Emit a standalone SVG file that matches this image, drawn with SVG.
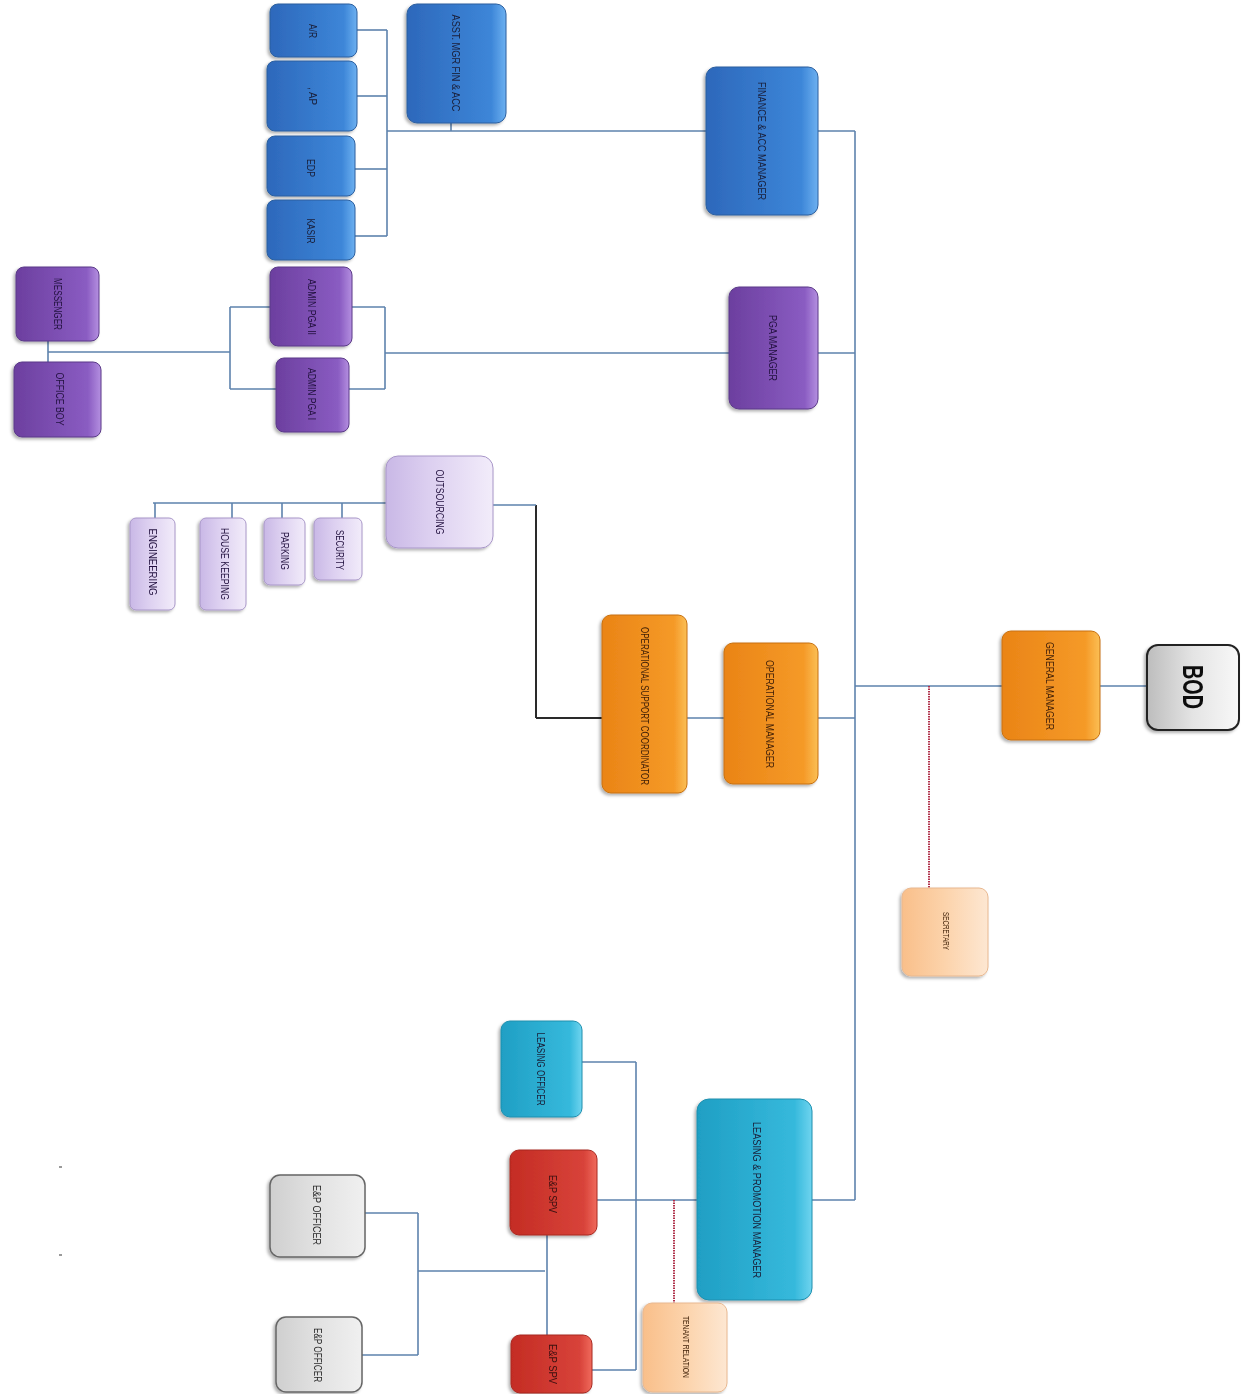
<svg xmlns="http://www.w3.org/2000/svg" width="1245" height="1394" viewBox="0 0 1245 1394">
<style>
.t{font-family:"Liberation Sans",Arial,sans-serif;font-size:11px;fill:#1a1e38;text-anchor:middle;dominant-baseline:central}
.to{fill:#3f1f05}
.tp{fill:#22113f}
.tg{fill:#2a2a2a}
.ln{stroke:#5d82ad;stroke-width:1.6;fill:none}
.dk{stroke:#2a2a2a;stroke-width:2;fill:none}
.dot{stroke:#b0304a;stroke-width:2;stroke-dasharray:1.5 1;fill:none}
.blue{fill:url(#gBlue);stroke:#2c5f9e;stroke-width:1}
.purp{fill:url(#gPurp);stroke:#5b3a88;stroke-width:1}
.oran{fill:url(#gOran);stroke:#c7700f;stroke-width:1}
.lav{fill:url(#gLav);stroke:#a896c8;stroke-width:1}
.peach{fill:url(#gPeach);stroke:#e8b890;stroke-width:1}
.cyan{fill:url(#gCyan);stroke:#1e8fae;stroke-width:1}
.red{fill:url(#gRed);stroke:#a82820;stroke-width:1}
.grey{fill:url(#gGrey);stroke:#666;stroke-width:1.5}
.bod{fill:url(#gBod);stroke:#222;stroke-width:2}
</style>
<defs>
<linearGradient id="gBlue" x1="0" x2="1" y1="0" y2="0"><stop offset="0" stop-color="#2d68bb"/><stop offset="0.85" stop-color="#3d86d8"/><stop offset="1" stop-color="#6cb0f0"/></linearGradient>
<linearGradient id="gPurp" x1="0" x2="1" y1="0" y2="0"><stop offset="0" stop-color="#6c3f9f"/><stop offset="0.85" stop-color="#8a5cc2"/><stop offset="1" stop-color="#b48fe0"/></linearGradient>
<linearGradient id="gOran" x1="0" x2="1" y1="0" y2="0"><stop offset="0" stop-color="#ea8416"/><stop offset="0.85" stop-color="#f59a28"/><stop offset="1" stop-color="#fbbf55"/></linearGradient>
<linearGradient id="gLav" x1="0" x2="1" y1="0" y2="0"><stop offset="0" stop-color="#c9b8e6"/><stop offset="0.4" stop-color="#dccff0"/><stop offset="1" stop-color="#f2ecfa"/></linearGradient>
<linearGradient id="gPeach" x1="0" x2="1" y1="0" y2="0"><stop offset="0" stop-color="#f9bf8a"/><stop offset="0.5" stop-color="#fcd3ab"/><stop offset="1" stop-color="#fde7d2"/></linearGradient>
<linearGradient id="gCyan" x1="0" x2="1" y1="0" y2="0"><stop offset="0" stop-color="#1f9fc4"/><stop offset="0.85" stop-color="#36b9dc"/><stop offset="1" stop-color="#6fd4ef"/></linearGradient>
<linearGradient id="gRed" x1="0" x2="1" y1="0" y2="0"><stop offset="0" stop-color="#c42c24"/><stop offset="0.85" stop-color="#d8433a"/><stop offset="1" stop-color="#f06a5c"/></linearGradient>
<linearGradient id="gGrey" x1="0" x2="1" y1="0" y2="0"><stop offset="0" stop-color="#cfcfcf"/><stop offset="0.5" stop-color="#e2e2e2"/><stop offset="1" stop-color="#f0f0f0"/></linearGradient>
<linearGradient id="gBod" x1="0" x2="1" y1="0" y2="0"><stop offset="0" stop-color="#bdbdbd"/><stop offset="0.5" stop-color="#e4e4e4"/><stop offset="1" stop-color="#f8f8f8"/></linearGradient>
<filter id="sh" x="-10%" y="-10%" width="130%" height="130%"><feDropShadow dx="-2" dy="2" stdDeviation="1.5" flood-color="#000" flood-opacity="0.3"/></filter>
</defs>
<rect width="1245" height="1394" fill="#ffffff"/>

<g id="connectors">
<line class="ln" x1="1100" y1="686" x2="1147" y2="686"/>
<line class="ln" x1="855" y1="686" x2="1002" y2="686"/>
<line class="ln" x1="855" y1="131" x2="855" y2="1200"/>
<line class="ln" x1="818" y1="131" x2="855" y2="131"/>
<line class="ln" x1="818" y1="353" x2="855" y2="353"/>
<line class="ln" x1="818" y1="718" x2="855" y2="718"/>
<line class="ln" x1="812" y1="1200" x2="855" y2="1200"/>
<line class="dot" x1="929" y1="686" x2="929" y2="888"/>
<line class="ln" x1="387" y1="131" x2="706" y2="131"/>
<line class="ln" x1="451" y1="123" x2="451" y2="131"/>
<line class="ln" x1="387" y1="30" x2="387" y2="236"/>
<line class="ln" x1="357" y1="30" x2="387" y2="30"/>
<line class="ln" x1="357" y1="96" x2="387" y2="96"/>
<line class="ln" x1="355" y1="169" x2="387" y2="169"/>
<line class="ln" x1="355" y1="236" x2="387" y2="236"/>
<line class="ln" x1="385" y1="353" x2="729" y2="353"/>
<line class="ln" x1="385" y1="307" x2="385" y2="389"/>
<line class="ln" x1="352" y1="307" x2="385" y2="307"/>
<line class="ln" x1="349" y1="389" x2="385" y2="389"/>
<line class="ln" x1="230" y1="307" x2="230" y2="389"/>
<line class="ln" x1="230" y1="307" x2="270" y2="307"/>
<line class="ln" x1="230" y1="389" x2="276" y2="389"/>
<line class="ln" x1="48" y1="352" x2="230" y2="352"/>
<line class="ln" x1="48" y1="341" x2="48" y2="362"/>
<line class="ln" x1="687" y1="718" x2="724" y2="718"/>
<line class="dk" x1="536" y1="718" x2="602" y2="718"/>
<line class="dk" x1="536" y1="505" x2="536" y2="718"/>
<line class="ln" x1="493" y1="505" x2="536" y2="505"/>
<line class="ln" x1="153" y1="503" x2="386" y2="503"/>
<line class="ln" x1="342" y1="503" x2="342" y2="518"/>
<line class="ln" x1="282" y1="503" x2="282" y2="518"/>
<line class="ln" x1="232" y1="503" x2="232" y2="518"/>
<line class="ln" x1="155" y1="503" x2="155" y2="518"/>
<line class="ln" x1="597" y1="1200" x2="697" y2="1200"/>
<line class="dot" x1="674" y1="1200" x2="674" y2="1303"/>
<line class="ln" x1="582" y1="1062" x2="636" y2="1062"/>
<line class="ln" x1="636" y1="1062" x2="636" y2="1370"/>
<line class="ln" x1="592" y1="1370" x2="636" y2="1370"/>
<line class="ln" x1="547" y1="1235" x2="547" y2="1335"/>
<line class="ln" x1="418" y1="1271" x2="545" y2="1271"/>
<line class="ln" x1="418" y1="1213" x2="418" y2="1355"/>
<line class="ln" x1="365" y1="1213" x2="418" y2="1213"/>
<line class="ln" x1="362" y1="1355" x2="418" y2="1355"/>
</g>

<g id="bod" filter="url(#sh)"><rect class="bod" x="1147" y="645" width="92" height="85" rx="11"/><text class="t" style="font-size:30px;font-weight:bold;fill:#111" textLength="44" lengthAdjust="spacingAndGlyphs" transform="translate(1193,687) rotate(90)">BOD</text></g>
<g id="general-manager" filter="url(#sh)"><rect class="oran" x="1002" y="631" width="98" height="109" rx="9"/><text class="t to" textLength="88" lengthAdjust="spacingAndGlyphs" transform="translate(1050,686) rotate(90)">GENERAL  MANAGER</text></g>
<g id="secretary" filter="url(#sh)"><rect class="peach" x="902" y="888" width="86" height="88" rx="9"/><text class="t to" style="font-size:9px" textLength="38" lengthAdjust="spacingAndGlyphs" transform="translate(946,931) rotate(90)">SECRETARY</text></g>

<g id="finance-manager" filter="url(#sh)"><rect class="blue" x="706" y="67" width="112" height="148" rx="10"/><text class="t" textLength="118" lengthAdjust="spacingAndGlyphs" transform="translate(762,141) rotate(90)">FINANCE &amp; ACC MANAGER</text></g>
<g id="asst-mgr" filter="url(#sh)"><rect class="blue" x="407" y="4" width="99" height="119" rx="10"/><text class="t" textLength="97" lengthAdjust="spacingAndGlyphs" transform="translate(456,63) rotate(90)">ASST. MGR FIN &amp; ACC</text></g>
<g id="ar" filter="url(#sh)"><rect class="blue" x="270" y="4" width="87" height="53" rx="8"/><text class="t" textLength="14" lengthAdjust="spacingAndGlyphs" transform="translate(313,31) rotate(90)">A/R</text></g>
<g id="ap" filter="url(#sh)"><rect class="blue" x="267" y="61" width="90" height="70" rx="8"/><text class="t" textLength="18" lengthAdjust="spacingAndGlyphs" transform="translate(313,96) rotate(90)">, AP</text></g>
<g id="edp" filter="url(#sh)"><rect class="blue" x="267" y="136" width="88" height="60" rx="8"/><text class="t" textLength="18" lengthAdjust="spacingAndGlyphs" transform="translate(311,168) rotate(90)">EDP</text></g>
<g id="kasir" filter="url(#sh)"><rect class="blue" x="267" y="200" width="88" height="60" rx="8"/><text class="t" textLength="25" lengthAdjust="spacingAndGlyphs" transform="translate(311,231) rotate(90)">KASIR</text></g>

<g id="pga-manager" filter="url(#sh)"><rect class="purp" x="729" y="287" width="89" height="122" rx="10"/><text class="t tp" textLength="66" lengthAdjust="spacingAndGlyphs" transform="translate(773,348) rotate(90)">PGA  MANAGER</text></g>
<g id="admin-pga-2" filter="url(#sh)"><rect class="purp" x="270" y="267" width="82" height="79" rx="8"/><text class="t tp" textLength="56" lengthAdjust="spacingAndGlyphs" transform="translate(312,307) rotate(90)">ADMIN PGA II</text></g>
<g id="admin-pga-1" filter="url(#sh)"><rect class="purp" x="276" y="358" width="73" height="74" rx="8"/><text class="t tp" textLength="52" lengthAdjust="spacingAndGlyphs" transform="translate(312,394) rotate(90)">ADMIN PGA I</text></g>
<g id="messenger" filter="url(#sh)"><rect class="purp" x="16" y="267" width="83" height="74" rx="8"/><text class="t tp" textLength="52" lengthAdjust="spacingAndGlyphs" transform="translate(58,304) rotate(90)">MESSENGER</text></g>
<g id="office-boy" filter="url(#sh)"><rect class="purp" x="14" y="362" width="87" height="75" rx="8"/><text class="t tp" textLength="53" lengthAdjust="spacingAndGlyphs" transform="translate(60,399) rotate(90)">OFFICE  BOY</text></g>

<g id="operational-manager" filter="url(#sh)"><rect class="oran" x="724" y="643" width="94" height="141" rx="9"/><text class="t to" textLength="108" lengthAdjust="spacingAndGlyphs" transform="translate(770,714) rotate(90)">OPERATIONAL MANAGER</text></g>
<g id="op-support" filter="url(#sh)"><rect class="oran" x="602" y="615" width="85" height="178" rx="9"/><text class="t to" textLength="158" lengthAdjust="spacingAndGlyphs" transform="translate(645,706) rotate(90)">OPERATIONAL SUPPORT COORDINATOR</text></g>
<g id="outsourcing" filter="url(#sh)"><rect class="lav" x="386" y="456" width="107" height="92" rx="12"/><text class="t tp" textLength="65" lengthAdjust="spacingAndGlyphs" transform="translate(440,502) rotate(90)">OUTSOURCING</text></g>
<g id="security" filter="url(#sh)"><rect class="lav" x="314" y="518" width="48" height="62" rx="6"/><text class="t tp" textLength="40" lengthAdjust="spacingAndGlyphs" transform="translate(340,550) rotate(90)">SECURITY</text></g>
<g id="parking" filter="url(#sh)"><rect class="lav" x="264" y="518" width="41" height="67" rx="6"/><text class="t tp" textLength="38" lengthAdjust="spacingAndGlyphs" transform="translate(285,551) rotate(90)">PARKING</text></g>
<g id="house-keeping" filter="url(#sh)"><rect class="lav" x="200" y="518" width="46" height="92" rx="6"/><text class="t tp" textLength="72" lengthAdjust="spacingAndGlyphs" transform="translate(225,564) rotate(90)">HOUSE KEEPING</text></g>
<g id="engineering" filter="url(#sh)"><rect class="lav" x="130" y="518" width="45" height="92" rx="6"/><text class="t tp" textLength="67" lengthAdjust="spacingAndGlyphs" transform="translate(153,562) rotate(90)">ENGINEERING</text></g>

<g id="leasing-manager" filter="url(#sh)"><rect class="cyan" x="697" y="1099" width="115" height="201" rx="12"/><text class="t" textLength="156" lengthAdjust="spacingAndGlyphs" transform="translate(757,1200) rotate(90)">LEASING &amp; PROMOTION MANAGER</text></g>
<g id="leasing-officer" filter="url(#sh)"><rect class="cyan" x="501" y="1021" width="81" height="96" rx="9"/><text class="t" textLength="73" lengthAdjust="spacingAndGlyphs" transform="translate(541,1069) rotate(90)">LEASING OFFICER</text></g>
<g id="ep-spv-1" filter="url(#sh)"><rect class="red" x="510" y="1150" width="87" height="85" rx="9"/><text class="t" style="fill:#3a1010" textLength="38" lengthAdjust="spacingAndGlyphs" transform="translate(553,1194) rotate(90)">E&amp;P SPV</text></g>
<g id="ep-spv-2" filter="url(#sh)"><rect class="red" x="511" y="1335" width="81" height="58" rx="9"/><text class="t" style="fill:#3a1010" textLength="40" lengthAdjust="spacingAndGlyphs" transform="translate(553,1364) rotate(90)">E&amp;P SPV</text></g>
<g id="ep-officer-1" filter="url(#sh)"><rect class="grey" x="270" y="1175" width="95" height="82" rx="10"/><text class="t tg" textLength="60" lengthAdjust="spacingAndGlyphs" transform="translate(317,1215) rotate(90)">E&amp;P  OFFICER</text></g>
<g id="ep-officer-2" filter="url(#sh)"><rect class="grey" x="276" y="1317" width="86" height="75" rx="10"/><text class="t tg" textLength="54" lengthAdjust="spacingAndGlyphs" transform="translate(318,1355) rotate(90)">E&amp;P  OFFICER</text></g>
<g id="tenant-relation" filter="url(#sh)"><rect class="peach" x="643" y="1303" width="84" height="89" rx="9"/><text class="t to" style="font-size:9px" textLength="62" lengthAdjust="spacingAndGlyphs" transform="translate(686,1347) rotate(90)">TENANT RELATION</text></g>

<g id="marks" fill="#9a9a9a">
<rect x="59" y="1166" width="3" height="2"/>
<rect x="59" y="1254" width="3" height="2"/>
</g>
</svg>
